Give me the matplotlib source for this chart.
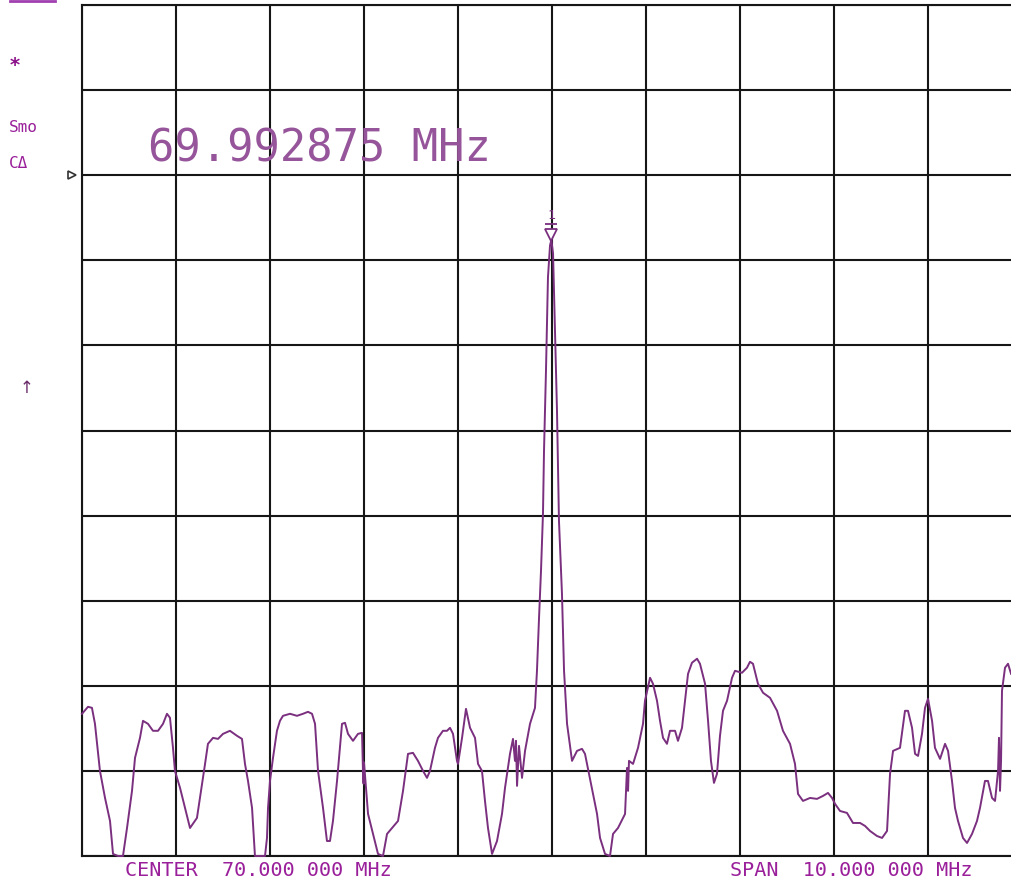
import matplotlib
matplotlib.use("Agg")
import matplotlib.pyplot as plt
import matplotlib.transforms as mtransforms
from matplotlib.lines import Line2D

# Analyzer trace, x in divisions from the left edge (1 div = 1 MHz), y in divisions from the bottom
freq_div = [0.000, 0.064, 0.106, 0.138, 0.191, 0.245, 0.298, 0.330, 0.383, 0.436,
            0.479, 0.532, 0.564, 0.617, 0.649, 0.702, 0.755, 0.809, 0.862, 0.904,
            0.936, 0.968, 0.989, 1.043, 1.096, 1.149, 1.223, 1.255, 1.309, 1.340,
            1.394, 1.447, 1.500, 1.574, 1.649, 1.702, 1.734, 1.766, 1.809, 1.840,
            1.894, 1.947, 1.968, 1.979, 2.000, 2.032, 2.074, 2.106, 2.138, 2.213,
            2.287, 2.351, 2.404, 2.447, 2.479, 2.511, 2.564, 2.606, 2.638, 2.670,
            2.713, 2.766, 2.798, 2.830, 2.883, 2.936, 2.979, 2.989, 2.995, 3.000,
            3.043, 3.096, 3.149, 3.202, 3.245, 3.298, 3.362, 3.415, 3.468, 3.521,
            3.574, 3.628, 3.670, 3.702, 3.755, 3.787, 3.840, 3.883, 3.915, 3.947,
            3.989, 4.000, 4.043, 4.085, 4.128, 4.181, 4.213, 4.255, 4.287, 4.319,
            4.362, 4.415, 4.468, 4.500, 4.553, 4.585, 4.606, 4.617, 4.628, 4.649,
            4.681, 4.713, 4.766, 4.819, 4.840, 4.862, 4.883, 4.904, 4.915, 4.936,
            4.957, 4.979, 4.993, 5.011, 5.032, 5.053, 5.074, 5.106, 5.128, 5.160,
            5.213, 5.266, 5.319, 5.351, 5.383, 5.436, 5.479, 5.511, 5.564, 5.617,
            5.649, 5.702, 5.777, 5.798, 5.809, 5.819, 5.862, 5.915, 5.968, 5.989,
            6.043, 6.074, 6.117, 6.149, 6.181, 6.223, 6.255, 6.309, 6.340, 6.383,
            6.415, 6.447, 6.489, 6.543, 6.574, 6.628, 6.660, 6.691, 6.723, 6.755,
            6.787, 6.819, 6.862, 6.915, 6.947, 7.021, 7.074, 7.106, 7.138, 7.191,
            7.245, 7.319, 7.394, 7.457, 7.532, 7.585, 7.617, 7.670, 7.745, 7.819,
            7.883, 7.936, 7.979, 8.011, 8.064, 8.138, 8.202, 8.277, 8.330, 8.383,
            8.457, 8.511, 8.564, 8.596, 8.628, 8.702, 8.755, 8.787, 8.830, 8.862,
            8.894, 8.936, 8.968, 9.000, 9.043, 9.074, 9.128, 9.181, 9.213, 9.255,
            9.287, 9.319, 9.372, 9.415, 9.468, 9.521, 9.553, 9.606, 9.638, 9.681,
            9.713, 9.745, 9.755, 9.766, 9.777, 9.787, 9.819, 9.851, 9.883]
level_div = [1.671, 1.753, 1.741, 1.553, 1.000, 0.682, 0.412, 0.024, 0.000, 0.000,
             0.329, 0.765, 1.153, 1.388, 1.588, 1.553, 1.471, 1.471, 1.553, 1.671,
             1.624, 1.271, 1.000, 0.800, 0.565, 0.329, 0.447, 0.682, 1.082, 1.318,
             1.388, 1.376, 1.435, 1.471, 1.412, 1.376, 1.082, 0.882, 0.565, 0.000,
             0.000, 0.000, 0.212, 0.565, 0.882, 1.153, 1.471, 1.588, 1.647, 1.671,
             1.647, 1.671, 1.694, 1.671, 1.553, 1.000, 0.565, 0.176, 0.176, 0.412,
             0.882, 1.553, 1.565, 1.435, 1.353, 1.435, 1.447, 1.000, 0.850, 1.100,
             0.494, 0.259, 0.024, 0.000, 0.259, 0.329, 0.412, 0.765, 1.200, 1.212,
             1.118, 1.000, 0.918, 1.000, 1.271, 1.388, 1.471, 1.471, 1.506, 1.435,
             1.118, 1.082, 1.388, 1.729, 1.506, 1.388, 1.082, 1.000, 0.647, 0.329,
             0.024, 0.176, 0.494, 0.800, 1.200, 1.376, 1.118, 1.353, 0.824, 1.294,
             0.918, 1.235, 1.553, 1.741, 2.176, 2.800, 3.353, 4.024, 4.765, 5.706,
             6.800, 7.176, 7.240, 7.082, 6.176, 5.235, 3.941, 3.082, 2.176, 1.553,
             1.118, 1.235, 1.259, 1.200, 1.024, 0.729, 0.494, 0.212, 0.024, 0.000,
             0.259, 0.329, 0.494, 1.035, 0.765, 1.118, 1.082, 1.271, 1.553, 1.824,
             2.094, 2.024, 1.824, 1.588, 1.388, 1.318, 1.471, 1.471, 1.353, 1.506,
             1.824, 2.141, 2.271, 2.318, 2.259, 2.024, 1.588, 1.118, 0.859, 0.965,
             1.412, 1.706, 1.824, 2.094, 2.176, 2.153, 2.212, 2.282, 2.259, 2.024,
             1.918, 1.859, 1.706, 1.471, 1.318, 1.082, 0.729, 0.647, 0.682, 0.671,
             0.706, 0.741, 0.682, 0.612, 0.529, 0.506, 0.388, 0.388, 0.353, 0.294,
             0.235, 0.212, 0.294, 0.965, 1.235, 1.271, 1.706, 1.706, 1.506, 1.200,
             1.176, 1.435, 1.741, 1.847, 1.588, 1.271, 1.141, 1.318, 1.235, 0.882,
             0.565, 0.412, 0.212, 0.153, 0.259, 0.412, 0.565, 0.882, 0.882, 0.682,
             0.647, 1.000, 1.388, 0.765, 1.118, 1.941, 2.212, 2.259, 2.141]

marker_freq = 4.993   # 69.992875 MHz
marker_level = 7.24
marker_label = "69.992875 MHz"
center_label = "CENTER  70.000 000 MHz"
span_label = "SPAN  10.000 000 MHz"
ref_level = 8

trace_col = "#7a2f7f"
text_col = "#9a1f9a"

fig = plt.figure(figsize=(10.11, 8.81), dpi=100)
ax = fig.add_axes([0.0811, 0.0284, 0.9298, 0.9659])
ax.set_xlim(0, 10)
ax.set_ylim(0, 10)
ax.set_xticks(range(11))
ax.set_yticks(range(11))
ax.tick_params(length=0, labelbottom=False, labelleft=False)
ax.grid(True, color="#161616", lw=1.5)
for s in ax.spines.values():
    s.set_color("#161616")
    s.set_linewidth(1.5)

ax.plot(freq_div, level_div, color=trace_col, lw=1.4, clip_on=False, zorder=3)

# marker 1 sitting on the peak
up = mtransforms.offset_copy(ax.transData, fig=fig, x=0, y=5, units="dots")
ax.plot(marker_freq, marker_level, transform=up, marker="v", ms=9, mfc="white",
        mec=trace_col, mew=1.3, zorder=4)
bar = mtransforms.offset_copy(ax.transData, fig=fig, x=0, y=16, units="dots")
ax.plot(marker_freq, marker_level, transform=bar, marker="_", ms=8,
        mec=trace_col, mew=1.3, zorder=4)
ax.annotate("1", (marker_freq, marker_level), xytext=(0, 18), textcoords="offset pixels",
            ha="center", va="bottom", fontsize=9.5, color=trace_col,
            family="DejaVu Sans Mono")

# reference position pointer on the left edge
ax.plot(-0.106, ref_level, marker=">", ms=6, mfc="white", mec="#333333",
        mew=1.2, clip_on=False)

fig.text(148 / 1011, 1 - 149 / 881, marker_label, family="DejaVu Sans Mono",
         fontsize=31.5, color="#96559a", ha="left", va="center")

fig.text(125 / 1011, 1 - 871 / 881, center_label, family="DejaVu Sans Mono",
         fontsize=14.5, color=text_col, ha="left", va="center")
fig.text(730 / 1011, 1 - 871 / 881, span_label, family="DejaVu Sans Mono",
         fontsize=14.5, color=text_col, ha="left", va="center")

# annotation column at the left
fig.add_artist(Line2D([10 / 1011, 55 / 1011], [1 - 1 / 881, 1 - 1 / 881],
                      color="#a040b0", lw=2))
fig.text(15 / 1011, 1 - 66 / 881, "*", fontsize=14, color="#8a108a",
         ha="center", va="center", fontweight="bold")
fig.text(9 / 1011, 1 - 127 / 881, "Smo", family="DejaVu Sans Mono", fontsize=11.5,
         color=text_col, ha="left", va="center")
fig.text(9 / 1011, 1 - 163 / 881, "C\u0394", family="DejaVu Sans Mono", fontsize=11.5,
         color=text_col, ha="left", va="center")
fig.text(27 / 1011, 1 - 388 / 881, "\u2191", fontsize=12, color="#6a2a6a",
         ha="center", va="center")

fig.savefig("out.png", dpi=100)
